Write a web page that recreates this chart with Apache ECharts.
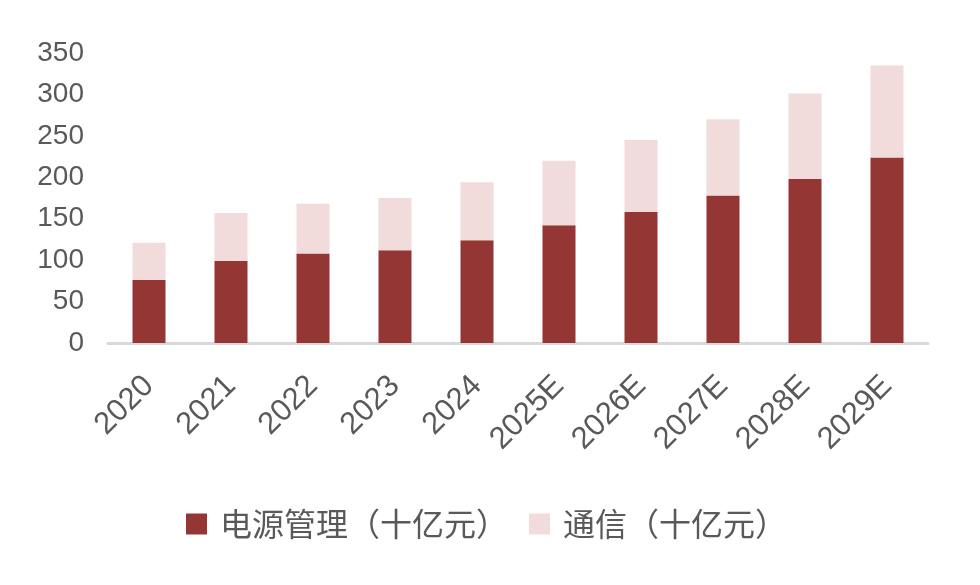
<!DOCTYPE html>
<html>
<head>
<meta charset="utf-8">
<style>
  html, body { margin: 0; padding: 0; background: #fff; }
  #chart { width: 980px; height: 585px; }
</style>
<script src="https://cdn.jsdelivr.net/npm/echarts@6/dist/echarts.min.js"></script>
</head>
<body>
<div id="chart"></div>
<script>
// 年份
const years = ["2020", "2021", "2022", "2023", "2024", "2025E", "2026E", "2027E", "2028E", "2029E"]
// 电源管理（十亿元）
const powerMgmt = [76, 99, 108, 112, 124, 142, 158, 178, 198, 224]
// 通信（十亿元）
const comms = [45, 58, 60, 63, 70, 78, 87, 92, 103, 111]

const font = "'Liberation Sans', 'Noto Sans CJK SC', sans-serif"

const chart = echarts.init(document.getElementById("chart"))
chart.setOption({
  animation: false,
  grid: {
    left: 108,
    right: 52,
    top: 53,
    bottom: 242
  },
  legend: {
    data: ["电源管理（十亿元）", "通信（十亿元）"],
    left: 186,
    top: 508,
    padding: 0,
    icon: "rect",
    itemWidth: 21,
    itemHeight: 21,
    itemGap: 21,
    textStyle: {
      fontSize: 32,
      color: "#595959",
      fontFamily: "'Noto Sans CJK SC', sans-serif",
      padding: [0, 0, 0, 8]
    }
  },
  xAxis: {
    type: "category",
    data: years,
    axisLine: { lineStyle: { color: "#d9d9d9", width: 3 } },
    axisTick: { show: false },
    axisLabel: {
      rotate: 45,
      interval: 0,
      margin: 38,
      fontSize: 31,
      color: "#595959",
      fontFamily: font
    }
  },
  yAxis: {
    type: "value",
    min: 0,
    max: 350,
    interval: 50,
    splitLine: { show: false },
    axisLine: { show: false },
    axisTick: { show: false },
    axisLabel: {
      margin: 24,
      fontSize: 28,
      color: "#595959",
      fontFamily: font
    }
  },
  series: [
    {
      name: "电源管理（十亿元）",
      type: "bar",
      stack: "total",
      barWidth: 33,
      data: powerMgmt,
      itemStyle: { color: "#943634" }
    },
    {
      name: "通信（十亿元）",
      type: "bar",
      stack: "total",
      barWidth: 33,
      data: comms,
      itemStyle: { color: "#f2dcdb" }
    }
  ]
})
</script>
</body>
</html>
